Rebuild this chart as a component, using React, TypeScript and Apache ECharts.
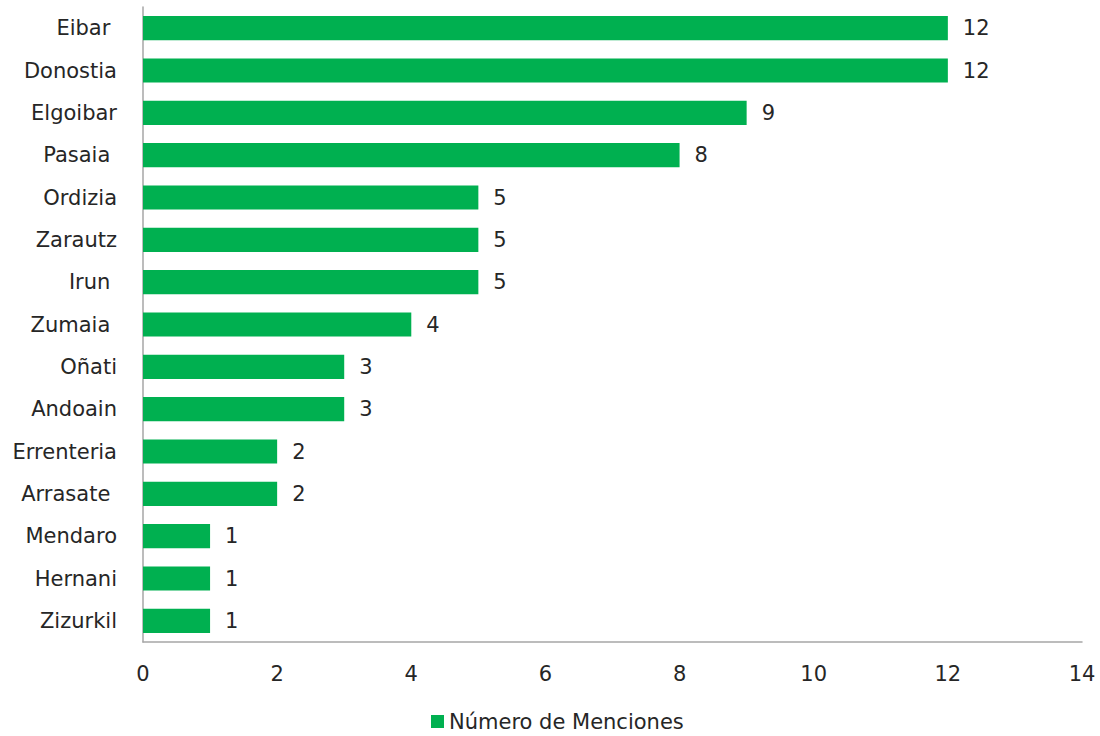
import React, { useEffect, useRef } from "react";
import * as echarts from "echarts";

const categories = [
  "Eibar ",
  "Donostia",
  "Elgoibar",
  "Pasaia ",
  "Ordizia",
  "Zarautz",
  "Irun ",
  "Zumaia ",
  "Oñati",
  "Andoain",
  "Errenteria",
  "Arrasate ",
  "Mendaro",
  "Hernani",
  "Zizurkil",
];
const values = [12, 12, 9, 8, 5, 5, 5, 4, 3, 3, 2, 2, 1, 1, 1];
const seriesName = "Número de Menciones";

const FONT = "DejaVu Sans";
const TEXT = "#262626";
const FS = 21;

export default function App() {
  const ref = useRef<HTMLDivElement>(null);
  useEffect(() => {
    if (!ref.current) return;
    const chart = echarts.init(ref.current, null, { renderer: "svg" });
    chart.setOption({
      animation: false,
      backgroundColor: "#ffffff",
      textStyle: { fontFamily: FONT },
      grid: { left: 143, right: 18, top: 7, bottom: 94, containLabel: false },
      legend: {
        data: [seriesName],
        left: 431,
        top: 711,
        padding: 0,
        itemWidth: 13,
        itemHeight: 13,
        icon: "rect",
        textStyle: { fontFamily: FONT, fontSize: FS, color: TEXT, lineHeight: 20 },
      },
      xAxis: {
        type: "value",
        min: 0,
        max: 14,
        interval: 2,
        axisLine: { show: true, lineStyle: { color: "#a6a6a6", width: 1.5 } },
        axisTick: { show: false },
        splitLine: { show: false },
        axisLabel: { fontFamily: FONT, fontSize: FS, color: TEXT, margin: 21 },
      },
      yAxis: {
        type: "category",
        inverse: true,
        data: categories,
        axisLine: { show: true, lineStyle: { color: "#a6a6a6", width: 1.5 } },
        axisTick: { show: false },
        axisLabel: { fontFamily: FONT, fontSize: FS, color: TEXT, margin: 26 },
      },
      series: [
        {
          name: seriesName,
          type: "bar",
          data: values,
          barCategoryGap: "43%",
          itemStyle: { color: "#00b050" },
          label: {
            show: true,
            position: "right",
            distance: 15,
            fontFamily: FONT,
            fontSize: FS,
            color: TEXT,
          },
        },
      ],
    });
    return () => chart.dispose();
  }, []);
  return (
    <div
      ref={ref}
      style={{ position: "fixed", left: 0, top: 0, width: 1100, height: 736 }}
    />
  );
}
